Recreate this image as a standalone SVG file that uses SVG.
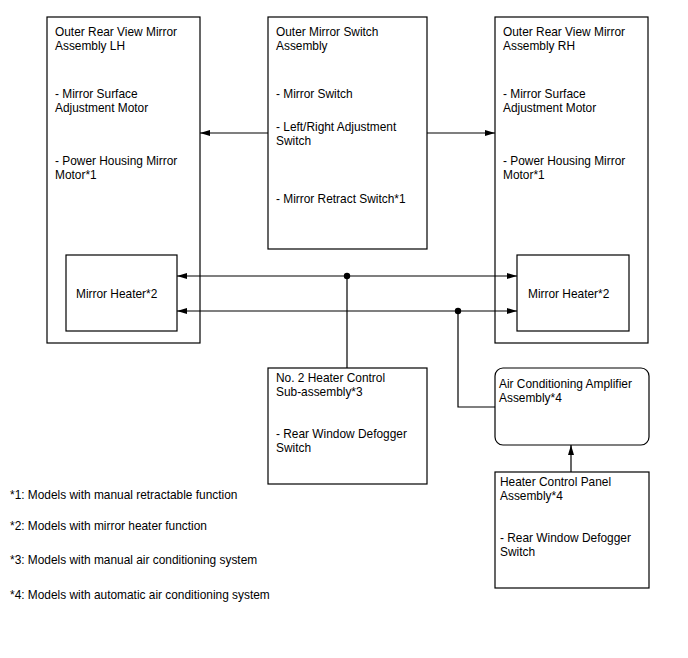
<svg xmlns="http://www.w3.org/2000/svg" width="688" height="658" viewBox="0 0 688 658">
<defs>
<style>
.b{fill:#fff;stroke:#000;stroke-width:1.2}
.l{fill:none;stroke:#000;stroke-width:1.2}
text{font-family:"Liberation Sans",Arial,sans-serif;font-size:11.9px;fill:#000}
</style>
<marker id="a" viewBox="0 0 10 6" refX="10" refY="3" markerWidth="10" markerHeight="6" markerUnits="userSpaceOnUse" orient="auto-start-reverse"><path d="M0,0L10,3L0,6z" fill="#000"/></marker>
</defs>
<rect width="688" height="658" fill="#fff"/>
<g id="lh">
<rect class="b" x="47" y="17" width="153" height="326"/>
<text x="55" y="36">Outer Rear View Mirror</text>
<text x="55" y="50">Assembly LH</text>
<text x="55" y="98">- Mirror Surface</text>
<text x="55" y="112">Adjustment Motor</text>
<text x="55" y="165">- Power Housing Mirror</text>
<text x="55" y="179">Motor*1</text>
</g>
<g id="lh-heater">
<rect class="b" x="66" y="255" width="111" height="76"/>
<text x="76" y="298">Mirror Heater*2</text>
</g>
<g id="switch">
<rect class="b" x="268" y="17" width="159" height="232"/>
<text x="276" y="36">Outer Mirror Switch</text>
<text x="276" y="50">Assembly</text>
<text x="276" y="98">- Mirror Switch</text>
<text x="276" y="131">- Left/Right Adjustment</text>
<text x="276" y="145">Switch</text>
<text x="276" y="203">- Mirror Retract Switch*1</text>
</g>
<g id="rh">
<rect class="b" x="495" y="17" width="153" height="326"/>
<text x="503" y="36">Outer Rear View Mirror</text>
<text x="503" y="50">Assembly RH</text>
<text x="503" y="98">- Mirror Surface</text>
<text x="503" y="112">Adjustment Motor</text>
<text x="503" y="165">- Power Housing Mirror</text>
<text x="503" y="179">Motor*1</text>
</g>
<g id="rh-heater">
<rect class="b" x="517" y="255" width="112" height="76"/>
<text x="528" y="298">Mirror Heater*2</text>
</g>
<g id="no2">
<rect class="b" x="268" y="368" width="159" height="116"/>
<text x="276" y="382">No. 2 Heater Control</text>
<text x="276" y="396">Sub-assembly*3</text>
<text x="276" y="438">- Rear Window Defogger</text>
<text x="276" y="452">Switch</text>
</g>
<g id="ac">
<rect class="b" x="495" y="368" width="154" height="77" rx="8"/>
<text x="499" y="388">Air Conditioning Amplifier</text>
<text x="499" y="402">Assembly*4</text>
</g>
<g id="panel">
<rect class="b" x="495" y="472" width="154" height="116"/>
<text x="500" y="486">Heater Control Panel</text>
<text x="500" y="500">Assembly*4</text>
<text x="500" y="542">- Rear Window Defogger</text>
<text x="500" y="556">Switch</text>
</g>
<g id="connectors">
<line class="l" x1="268" y1="133" x2="200" y2="133" marker-end="url(#a)"/>
<line class="l" x1="427" y1="133" x2="495" y2="133" marker-end="url(#a)"/>
<line class="l" x1="177" y1="276" x2="517" y2="276" marker-start="url(#a)" marker-end="url(#a)"/>
<line class="l" x1="177" y1="311" x2="517" y2="311" marker-start="url(#a)" marker-end="url(#a)"/>
<circle cx="347" cy="276" r="3.2" fill="#000"/>
<circle cx="458" cy="311" r="3.2" fill="#000"/>
<line class="l" x1="347" y1="276" x2="347" y2="368"/>
<polyline class="l" points="458,311 458,407 495,407"/>
<line class="l" x1="571" y1="472" x2="571" y2="445" marker-end="url(#a)"/>
</g>
<g id="notes">
<text x="10" y="499">*1: Models with manual retractable function</text>
<text x="10" y="530">*2: Models with mirror heater function</text>
<text x="10" y="564">*3: Models with manual air conditioning system</text>
<text x="10" y="599">*4: Models with automatic air conditioning system</text>
</g>
</svg>
